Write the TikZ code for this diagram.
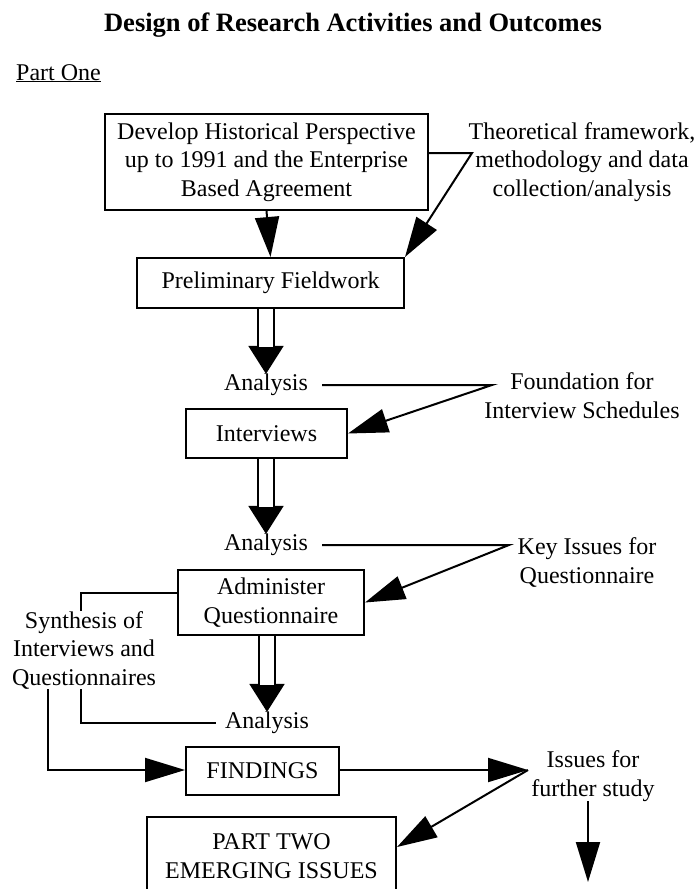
\documentclass[tikz,border=0pt]{standalone}
\usepackage{fontspec}
\setmainfont{Liberation Serif}
\usetikzlibrary{arrows.meta}
\begin{document}
\begin{tikzpicture}[x=1pt,y=-1pt,
  font=\fontsize{24}{28.5}\selectfont,
  box/.style={draw, line width=2pt, inner sep=0pt, align=center},
  lbl/.style={inner sep=0pt, align=center},
  conn/.style={line width=2pt},
  arr/.style={line width=2pt, -{Triangle[length=40pt,width=24pt]}},
  dblhead/.style={line width=2pt, -{Triangle[length=28pt,width=35pt]}},
  dblshaft/.style={double distance=14pt, line width=2pt, shorten >=27pt}]
\clip (0,0) rectangle (694,889);
% title
\node[lbl, anchor=base, font=\fontsize{26.5}{30}\selectfont\bfseries] (title) at (353,31) {Design of Research Activities and Outcomes};
\node[lbl, anchor=base west] (p1) at (16,80) {\underline{Part One}};
% boxes
\node[box, minimum width=323pt, minimum height=96pt] (b1) at (266.5,162) {Develop Historical Perspective\\up to 1991 and the Enterprise\\Based Agreement};
\node[lbl] (theo) at (582,162) {Theoretical framework,\\methodology and data\\collection/analysis};
\node[box, minimum width=267pt, minimum height=50pt] (b2) at (270.5,283) {Preliminary Fieldwork};
\node[lbl] (an1) at (266,385) {Analysis};
\node[lbl] (found) at (582,395.5) {Foundation for\\Interview Schedules};
\node[box, minimum width=161pt, minimum height=49pt] (int) at (266.5,433.5) {Interviews};
\node[lbl] (an2) at (266,545) {Analysis};
\node[lbl] (key) at (587,562.5) {Key Issues for\\Questionnaire};
\node[box, minimum width=186pt, minimum height=65pt] (adm) at (271,602.5) {Administer\\Questionnaire};
\node[lbl] (syn) at (84,650) {Synthesis of\\Interviews and\\Questionnaires};
\node[lbl] (an3) at (267,723) {Analysis};
\node[box, minimum width=153pt, minimum height=48pt] (fin) at (262.5,771) {FINDINGS};
\node[lbl] (iss) at (593,776) {Issues for\\further study};
\node[box, minimum width=249pt, minimum height=78pt] (p2) at (271.5,856) {PART TWO\\EMERGING ISSUES};
% connectors
\draw[arr] (b1.south) -- (b2.north);
\coordinate (t1) at (472,153);
\draw[arr] (b1.east |- t1) -- (t1) -- (b2.north east);
% double arrows
\draw[dblhead] (an1.north |- b2.south) -- (an1.north);
\draw[dblshaft] (an1.north |- b2.south) -- (an1.north);
\draw[dblhead] (an2.north |- int.south) -- (an2.north);
\draw[dblshaft] (an2.north |- int.south) -- (an2.north);
\draw[dblhead] (an3.north |- adm.south) -- (an3.north);
\draw[dblshaft] (an3.north |- adm.south) -- (an3.north);
% side inputs
\coordinate (f1) at (492,385);
\draw[arr] ([xshift=14pt]an1.east) -- (f1) -- (int.east);
\coordinate (k1) at (509,545);
\draw[arr] ([xshift=14pt]an2.east) -- (k1) -- (adm.east);
% synthesis
\coordinate (s1) at (81,593);
\draw[conn] (adm.west |- s1) -- (s1) -- (s1 |- syn.north);
\coordinate (s2) at (48,770);
\draw[arr] (s2 |- syn.south) -- (s2) -- (fin.west |- s2);
\draw[conn] (s1 |- syn.south) -- (s1 |- an3.west) -- ([xshift=-9pt]an3.west);
% findings onward
\coordinate (i1) at (528,770);
\draw[arr] (fin.east |- i1) -- (i1);
\draw[arr] (i1) -- ([yshift=9pt]p2.east);
\coordinate (e1) at (588,882);
\draw[arr] (iss.south -| e1) -- (e1);
\end{tikzpicture}
\end{document}
